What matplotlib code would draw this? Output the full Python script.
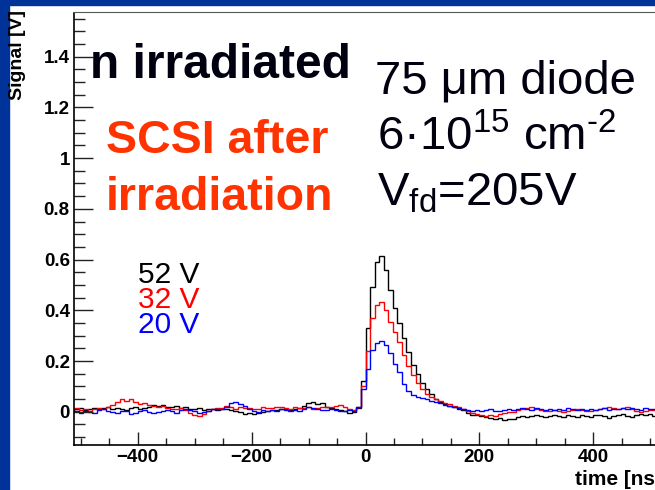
import numpy as np
import matplotlib
matplotlib.use("Agg")
import matplotlib.pyplot as plt
from matplotlib.patches import Rectangle
from matplotlib.ticker import MultipleLocator

plt.rcParams["font.family"] = ["Liberation Sans", "DejaVu Sans"]
plt.rcParams["mathtext.fontset"] = "custom"
plt.rcParams["mathtext.rm"] = "Liberation Sans"
plt.rcParams["mathtext.it"] = "Liberation Sans:italic"
plt.rcParams["mathtext.bf"] = "Liberation Sans:bold"

# histogram bins [ns]
edges = np.arange(-512, 513, 8)

# signal [V] per 8 ns bin
v52 = [
    0.010, 0.014, 0.008, 0.012, 0.016, 0.010, 0.013, 0.018,
    0.012, 0.015, 0.010, 0.008, 0.014, 0.017, 0.012, 0.015,
    0.020, 0.026, 0.022, 0.028, 0.018, 0.020, 0.022, 0.014,
    0.018, 0.012, 0.010, 0.014, 0.008, 0.012, 0.010, 0.006,
    0.010, 0.012, 0.008, 0.004, 0.000, -0.008, -0.004, -0.010,
    -0.006, -0.002, 0.004, 0.008, 0.006, 0.010, 0.012, 0.008,
    0.010, 0.014, 0.024, 0.034, 0.040, 0.030, 0.036, 0.020,
    0.016, 0.010, 0.006, 0.004, -0.004, 0.000, 0.015, 0.120,
    0.330, 0.490, 0.590, 0.614, 0.560, 0.480, 0.410, 0.350,
    0.290, 0.235, 0.185, 0.148, 0.115, 0.090, 0.070, 0.052,
    0.040, 0.032, 0.024, 0.018, 0.012, 0.006, -0.004, -0.012,
    -0.014, -0.018, -0.020, -0.024, -0.030, -0.026, -0.034, -0.028,
    -0.030, -0.022, -0.018, -0.020, -0.016, -0.012, -0.016, -0.020,
    -0.018, -0.014, -0.016, -0.020, -0.012, -0.018, -0.022, -0.014,
    -0.016, -0.020, -0.014, -0.012, -0.018, -0.024, -0.016, -0.012,
    -0.010, -0.016, -0.020, -0.012, -0.008, -0.014, -0.010, -0.016,
]
v32 = [
    0.014, 0.008, 0.012, 0.004, 0.010, 0.016, 0.012, 0.020,
    0.026, 0.040, 0.050, 0.044, 0.052, 0.038, 0.030, 0.034,
    0.028, 0.024, 0.018, 0.022, 0.016, 0.012, 0.010, 0.014,
    0.006, -0.004, -0.012, -0.018, -0.008, 0.002, 0.010, 0.014,
    0.016, 0.022, 0.018, 0.012, 0.020, 0.016, 0.014, 0.010,
    0.012, 0.018, 0.014, 0.016, 0.020, 0.018, 0.016, 0.012,
    0.018, 0.014, 0.016, 0.020, 0.012, 0.016, 0.020, 0.018,
    0.018, 0.024, 0.026, 0.020, 0.012, 0.008, 0.020, 0.100,
    0.240, 0.370, 0.420, 0.432, 0.400, 0.355, 0.315, 0.275,
    0.225, 0.180, 0.145, 0.115, 0.090, 0.072, 0.060, 0.050,
    0.042, 0.036, 0.030, 0.024, 0.020, 0.012, 0.004, -0.004,
    -0.010, -0.014, -0.018, -0.012, -0.016, -0.008, -0.006, -0.002,
    0.000, 0.006, 0.010, 0.016, 0.018, 0.012, 0.008, 0.004,
    0.002, 0.006, 0.004, 0.000, 0.004, 0.008, 0.012, 0.006,
    0.004, 0.002, 0.006, 0.010, 0.014, 0.018, 0.016, 0.010,
    0.016, 0.020, 0.012, 0.004, 0.000, 0.002, 0.006, 0.008,
]
v20 = [
    0.002, -0.006, 0.004, 0.000, -0.004, 0.006, 0.010, 0.004,
    0.000, -0.006, 0.004, 0.002, -0.008, -0.004, 0.002, 0.006,
    0.000, -0.006, -0.002, 0.004, 0.008, 0.002, -0.004, 0.006,
    0.010, 0.006, 0.002, -0.004, 0.000, 0.004, 0.012, 0.010,
    0.012, 0.020, 0.034, 0.040, 0.030, 0.022, 0.010, 0.004,
    0.000, 0.006, 0.002, 0.008, 0.004, 0.010, 0.006, 0.002,
    0.008, 0.004, 0.010, 0.018, 0.014, 0.010, 0.006, 0.008,
    0.012, 0.008, 0.004, 0.002, 0.006, 0.004, 0.020, 0.090,
    0.170, 0.245, 0.272, 0.278, 0.262, 0.232, 0.190, 0.155,
    0.110, 0.082, 0.066, 0.060, 0.056, 0.050, 0.044, 0.040,
    0.034, 0.028, 0.022, 0.018, 0.014, 0.010, 0.006, 0.004,
    0.008, 0.002, 0.006, 0.010, 0.004, 0.002, 0.008, 0.012,
    0.006, 0.010, 0.016, 0.012, 0.008, 0.014, 0.010, 0.006,
    0.010, 0.006, 0.012, 0.008, 0.014, 0.010, 0.006, 0.012,
    0.008, 0.012, 0.006, 0.010, 0.014, 0.008, 0.012, 0.010,
    0.014, 0.010, 0.016, 0.012, 0.008, 0.014, 0.010, 0.012,
]
series = [("52 V", v52, "black"), ("32 V", v32, "#ff0000"), ("20 V", v20, "#0000ff")]

W, H = 655, 490
fig = plt.figure(figsize=(W / 100, H / 100), dpi=100)


def px(x, y):
    # pixel position (from top-left) -> figure fraction
    return x / W, 1 - y / H


# slide frame
fig.patches.append(Rectangle((0, 0), 8.5 / W, 1, transform=fig.transFigure,
                             color="#003399", zorder=0))
fig.patches.append(Rectangle((0, 1 - 5.5 / H), 1, 5.5 / H, transform=fig.transFigure,
                             color="#003399", zorder=0))

ax = fig.add_axes([74 / W, 45 / H, 583 / W, 432.5 / H])
for label, vals, col in series:
    ax.stairs(vals, edges, color=col, lw=1.0)

ax.set_xlim(-512, 512)
ax.set_ylim(-0.131, 1.574)
ax.xaxis.set_major_locator(MultipleLocator(200))
ax.xaxis.set_minor_locator(MultipleLocator(50))
ax.yaxis.set_major_locator(MultipleLocator(0.2))
ax.yaxis.set_minor_locator(MultipleLocator(0.05))
ax.yaxis.set_major_formatter(lambda v, p: f"{v:.1f}".rstrip("0").rstrip(".") if abs(v) > 1e-9 else "0")

ax.tick_params(axis="both", which="both", direction="in", color="#222222", width=1.0)
ax.tick_params(axis="y", which="major", length=14, pad=3)
ax.tick_params(axis="y", which="minor", length=8)
ax.tick_params(axis="x", which="major", length=9.5, pad=3)
ax.tick_params(axis="x", which="minor", length=5)
for lab in ax.get_xticklabels() + ax.get_yticklabels():
    lab.set_fontweight("bold")
    lab.set_fontsize(13.5)

ax.spines["left"].set_linewidth(1.2)
ax.spines["bottom"].set_linewidth(1.2)
ax.spines["top"].set_linewidth(0.8)
ax.spines["top"].set_color("#555555")

# axis titles, ROOT style (the x title runs past the slide edge, as in the original)
fig.text(*px(662, 485), "time [ns]", ha="right", va="baseline",
         fontsize=15, fontweight="bold")
fig.text(*px(17.5, 10), "Signal [V]", ha="center", va="top", rotation=90,
         fontsize=14, fontweight="bold")

# annotations
fig.text(*px(90, 78), "n irradiated", ha="left", va="baseline",
         fontsize=34.5, fontweight="bold", color="#000010")
fig.text(*px(106, 153), "SCSI after", ha="left", va="baseline",
         fontsize=33.5, fontweight="bold", color="#ff3300")
fig.text(*px(106, 210), "irradiation", ha="left", va="baseline",
         fontsize=33.5, fontweight="bold", color="#ff3300")
fig.text(*px(375, 94), "75 \u03bcm diode", ha="left", va="baseline",
         fontsize=34, color="#000010")
fig.text(*px(377, 150), "6\u00b710$^{15}$ cm$^{\\text{-2}}$", ha="left", va="baseline",
         fontsize=34, color="#000010")
fig.text(*px(377, 205), "V$_{\\mathrm{fd}}$=205V", ha="left", va="baseline",
         fontsize=34, color="#000010")

# legend entries
for i, (label, vals, col) in enumerate(series):
    fig.text(*px(138, 283 + 25 * i), label, ha="left", va="baseline",
             fontsize=21.5, color=col)

fig.savefig("out.png", dpi=100)
